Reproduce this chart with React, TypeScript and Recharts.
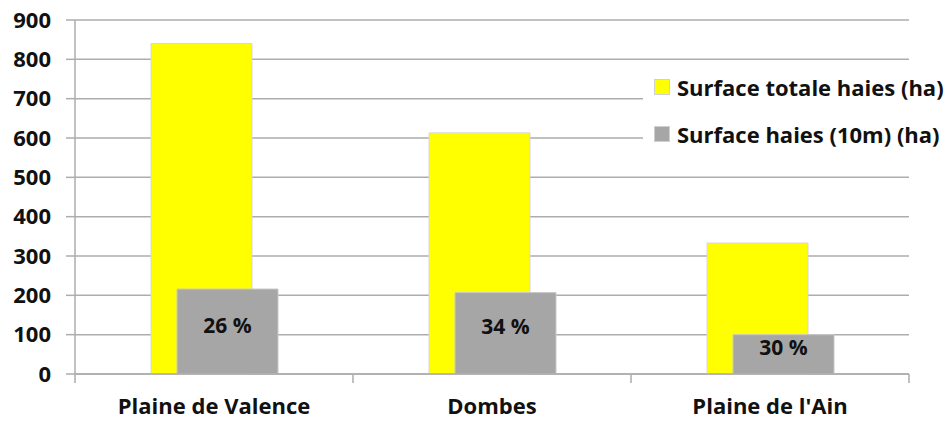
import React from 'react';
import { BarChart, Bar, XAxis, YAxis, CartesianGrid, LabelList } from 'recharts';

const categories = ['Plaine de Valence', 'Dombes', "Plaine de l'Ain"];
const surfaceTotale = [840, 613, 333];
const surface10m = [216, 207, 100];
const yTicks = [0, 100, 200, 300, 400, 500, 600, 700, 800, 900];

const seriesNames = ['Surface totale haies (ha)', 'Surface haies (10m) (ha)'];
const seriesColors = ['#FFFF00', '#A6A6A6'];

const data = categories.map((name, i) => ({
  name,
  total: surfaceTotale[i],
  h10: surface10m[i],
  pct: Math.round((surface10m[i] / surfaceTotale[i]) * 100),
}));

const W = 946;
const H = 421;
const margin = { top: 20, right: 37, left: 0, bottom: 0 };
const Y_W = 75;
const X_H = 47;
const FONT = '"Open Sans", sans-serif';
const GRID = '#ADADAD';
const bandW = (W - margin.left - margin.right - Y_W) / categories.length;

const XTick = (props: any) => {
  const { x, y, payload, index } = props;
  const left = x - bandW / 2;
  const right = x + bandW / 2;
  return (
    <g>
      {index === 0 && <line x1={left} x2={left} y1={y} y2={y + 9} stroke={GRID} strokeWidth={1.5} />}
      <line x1={right} x2={right} y1={y} y2={y + 9} stroke={GRID} strokeWidth={1.5} />
      <text
        x={x}
        y={y + 24}
        dy="0.71em"
        textAnchor="middle"
        fontFamily={FONT}
        fontWeight={700}
        fontSize={22}
        fill="#111"
      >
        {payload.value}
      </text>
    </g>
  );
};

const PctLabel = (props: any) => {
  const { x, y, width, height, value } = props;
  return (
    <text
      x={x + width / 2}
      y={y + height / 2 - 7}
      textAnchor="middle"
      dominantBaseline="central"
      fontFamily={FONT}
      fontWeight={700}
      fontSize={21}
      fill="#111"
    >
      {`${value} %`}
    </text>
  );
};

// Legend panel sits over the upper-right part of the plot with a white backing.
const LegendBox = () => (
  <div
    style={{
      position: 'absolute',
      left: 643,
      top: 64,
      width: 303,
      height: 100,
      background: '#fff',
    }}
  >
    {seriesNames.map((n, i) => (
      <div
        key={n}
        style={{
          position: 'absolute',
          left: 11,
          top: i === 0 ? 8 : 55,
          display: 'flex',
          alignItems: 'center',
          fontFamily: FONT,
          fontWeight: 700,
          fontSize: 22,
          color: '#111',
          whiteSpace: 'nowrap',
          lineHeight: '30px',
        }}
      >
        <span
          style={{
            display: 'inline-block',
            width: 14,
            height: 14,
            background: seriesColors[i],
            border: '1px solid #D0D0D0',
            marginRight: 7,
          }}
        />
        {n}
      </div>
    ))}
  </div>
);

export default function App() {
  return (
    <div style={{ position: 'absolute', left: 0, top: 0, width: W, height: H, background: '#fff' }}>
      <BarChart width={W} height={H} data={data} margin={margin} barSize={101} barGap={-75}>
        <CartesianGrid vertical={false} stroke={GRID} strokeWidth={1.5} />
        <YAxis
          width={Y_W}
          domain={[0, 900]}
          ticks={yTicks}
          interval={0}
          axisLine={{ stroke: GRID, strokeWidth: 1.5 }}
          tickLine={{ stroke: GRID, strokeWidth: 1.5 }}
          tickSize={9}
          tickMargin={15}
          tick={{ fontFamily: FONT, fontWeight: 700, fontSize: 22, fill: '#111' }}
        />
        <XAxis
          dataKey="name"
          height={X_H}
          axisLine={{ stroke: GRID, strokeWidth: 1.5 }}
          tickLine={false}
          tickSize={0}
          tickMargin={0}
          interval={0}
          tick={<XTick />}
        />
        <Bar dataKey="total" name={seriesNames[0]} fill={seriesColors[0]} stroke="#D6D6D6" strokeWidth={1} isAnimationActive={false} />
        <Bar dataKey="h10" name={seriesNames[1]} fill={seriesColors[1]} stroke="#C8C8C8" strokeWidth={1} isAnimationActive={false}>
          <LabelList dataKey="pct" content={<PctLabel />} />
        </Bar>
      </BarChart>
      <LegendBox />
    </div>
  );
}
